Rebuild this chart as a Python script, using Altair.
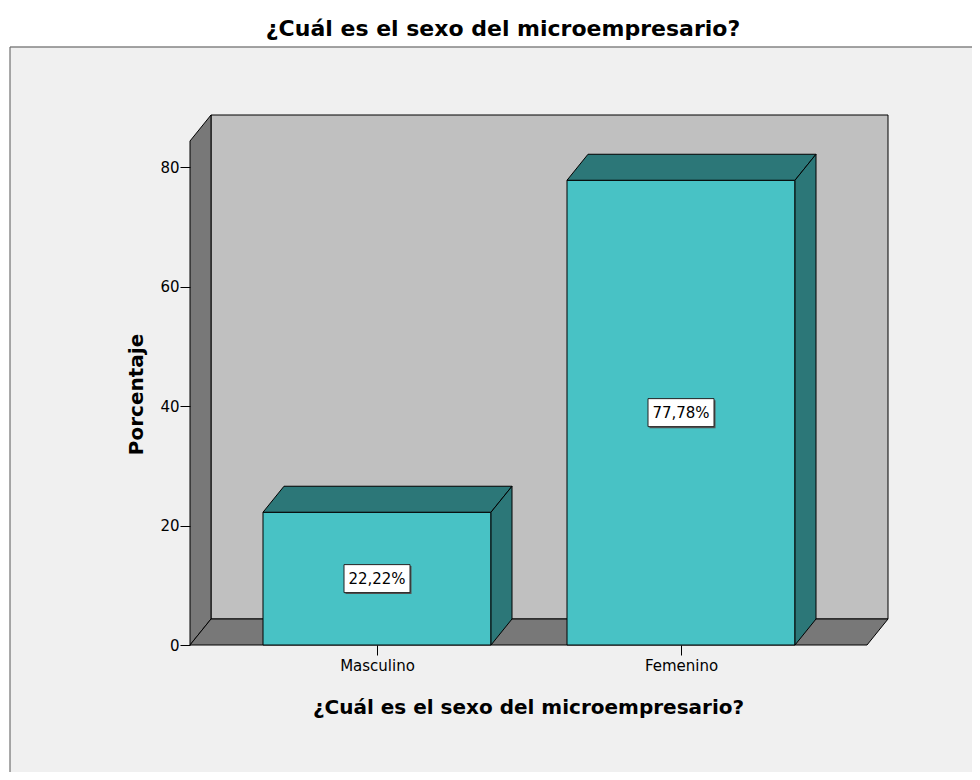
import json
import altair as alt
import pandas as pd

# ---- data ----
categories = ["Masculino", "Femenino"]
values = [22.22, 77.78]
bar_labels = ["22,22%", "77,78%"]
y_ticks = [0, 20, 40, 60, 80]
title_text = "¿Cuál es el sexo del microempresario?"
x_title = "¿Cuál es el sexo del microempresario?"
y_title = "Porcentaje"

# ---- geometry / style constants (pixels) ----
W, H = 698, 530
PX_PER_CAT = 304.0
PX_PER_PCT = 5.975
LEFT_PX = 187
DEPTH_X_PX, DEPTH_Y_PX = 21, 26
BAR_W_PX = 228
BOX_W, BOX_H = 66, 28
PAD = {"left": 182, "top": 107, "right": 84, "bottom": 127}

X_LO = -LEFT_PX / PX_PER_CAT
X_HI = X_LO + W / PX_PER_CAT
Y_HI = H / PX_PER_PCT
DX = DEPTH_X_PX / PX_PER_CAT
DY = DEPTH_Y_PX / PX_PER_PCT
HW = BAR_W_PX / 2 / PX_PER_CAT

TEAL = "#48c2c5"
DARK_TEAL = "#2c7778"
WALL = "#c0c0c0"
SIDE = "#787878"
FRAME_BG = "#f0f0f0"
FONT = "DejaVu Sans"

xs = alt.Scale(domain=[X_LO, X_HI], nice=False, zero=False)
ys = alt.Scale(domain=[0, Y_HI], nice=False, zero=False)

pos = list(range(len(categories)))
one = pd.DataFrame({"k": [0]})

# white page strip above and left of the grey frame (decoration)
strip_top = alt.Chart(one).mark_rect(fill="white").encode(
    x=alt.value(-PAD["left"]), x2=alt.value(W + PAD["right"]),
    y=alt.value(-PAD["top"]), y2=alt.value(-68),
)
strip_left = alt.Chart(one).mark_rect(fill="white").encode(
    x=alt.value(-PAD["left"]), x2=alt.value(-180),
    y=alt.value(-68), y2=alt.value(H + PAD["bottom"]),
)
frame_top = alt.Chart(one).mark_rule(color="#858585", strokeWidth=1.5).encode(
    x=alt.value(-180), x2=alt.value(W + PAD["right"]), y=alt.value(-68),
)
frame_left = alt.Chart(one).mark_rule(color="#707070", strokeWidth=1.2).encode(
    x=alt.value(-180), y=alt.value(-68), y2=alt.value(H + PAD["bottom"]),
)

label_expr = json.dumps(categories) + "[round(datum.value)]"
x_axis = alt.Axis(
    values=pos, labelExpr=label_expr, title=x_title, domain=False, grid=False,
    ticks=True, tickSize=10, tickColor="black", tickWidth=1,
    labelFont=FONT, labelFontSize=15, labelColor="black", labelPadding=3,
    labelFlush=False, labelOverlap=False,
    titleFont=FONT, titleFontSize=20, titleFontWeight="bold", titleColor="black",
    titleX=338, titleY=68, titleAlign="center", titleBaseline="alphabetic",
    zindex=1,
)
y_axis = alt.Axis(
    values=y_ticks, domain=False, grid=False, ticks=True, tickSize=10,
    tickColor="black", tickWidth=1, labelFont=FONT, labelFontSize=15,
    labelColor="black", labelPadding=1, labelFlush=False, labelOverlap=False,
    title=y_title, titleFont=FONT, titleFontSize=20, titleFontWeight="bold",
    titleColor="black", titleAngle=270, titleX=-48, titleY=279,
    titleAlign="center", titleBaseline="alphabetic", zindex=1,
)

# back wall (first layer on the scales: carries the axes)
back_df = pd.DataFrame({"x0": [X_LO + DX], "x1": [X_HI], "y0": [DY], "y1": [Y_HI]})
back = alt.Chart(back_df).mark_rect(fill=WALL, stroke="black", strokeWidth=1).encode(
    x=alt.X("x0:Q", scale=xs, axis=x_axis), x2="x1:Q",
    y=alt.Y("y0:Q", scale=ys, axis=y_axis), y2="y1:Q",
)

# left side wall
side_df = pd.DataFrame({"x": [X_LO, X_LO + DX], "lo": [0, DY], "hi": [Y_HI - DY, Y_HI]})
side = alt.Chart(side_df).mark_area(
    orient="vertical", fill=SIDE, stroke="black", strokeWidth=1, opacity=1
).encode(
    x=alt.X("x:Q", scale=xs),
    y=alt.Y("lo:Q", scale=ys), y2="hi:Q",
)

# floor
floor_df = pd.DataFrame({"y": [0, DY], "xl": [X_LO, X_LO + DX], "xr": [X_HI - DX, X_HI]})
floor = alt.Chart(floor_df).mark_area(
    orient="horizontal", fill=SIDE, stroke="black", strokeWidth=1, opacity=1
).encode(
    y=alt.Y("y:Q", scale=ys),
    x=alt.X("xl:Q", scale=xs), x2="xr:Q",
)

# bar fronts
front_df = pd.DataFrame({
    "cat": categories,
    "x0": [p - HW for p in pos],
    "x1": [p + HW for p in pos],
    "y0": [0.0] * len(values),
    "val": values,
})
front = alt.Chart(front_df).mark_rect(fill=TEAL, stroke="black", strokeWidth=1).encode(
    x=alt.X("x0:Q", scale=xs), x2="x1:Q",
    y=alt.Y("y0:Q", scale=ys), y2="val:Q",
)

# top faces and side faces of the bars
top_rows = []
side_rows = []
for p, c, v in zip(pos, categories, values):
    top_rows.append({"cat": c, "y": v, "xl": p - HW, "xr": p + HW})
    top_rows.append({"cat": c, "y": v + DY, "xl": p - HW + DX, "xr": p + HW + DX})
    side_rows.append({"cat": c, "x": p + HW, "lo": 0.0, "hi": v})
    side_rows.append({"cat": c, "x": p + HW + DX, "lo": DY, "hi": v + DY})

tops = alt.Chart(pd.DataFrame(top_rows)).mark_area(
    orient="horizontal", fill=DARK_TEAL, stroke="black", strokeWidth=1, opacity=1
).encode(
    y=alt.Y("y:Q", scale=ys),
    x=alt.X("xl:Q", scale=xs), x2="xr:Q",
    detail="cat:N",
)
sides = alt.Chart(pd.DataFrame(side_rows)).mark_area(
    orient="vertical", fill=DARK_TEAL, stroke="black", strokeWidth=1, opacity=1
).encode(
    x=alt.X("x:Q", scale=xs),
    y=alt.Y("lo:Q", scale=ys), y2="hi:Q",
    detail="cat:N",
)

# value labels in boxes
lab_df = pd.DataFrame({
    "cat": categories, "x": pos,
    "mid": [v / 2 for v in values], "label": bar_labels,
})
hy = (BOX_H / 2) / (BOX_W / 2)
box_shape = f"M-1,-{hy:.4f}L1,-{hy:.4f}L1,{hy:.4f}L-1,{hy:.4f}Z"
box_size = BOX_W * BOX_W
enc = dict(
    x=alt.X("x:Q", scale=xs),
    y=alt.Y("mid:Q", scale=ys),
)
shadow = alt.Chart(lab_df).mark_point(
    shape=box_shape, size=box_size, filled=True, fill="#555555", opacity=1,
    xOffset=1.5, yOffset=1.5,
).encode(**enc)
box = alt.Chart(lab_df).mark_point(
    shape=box_shape, size=box_size, filled=True, fill="white", stroke="#222222",
    strokeWidth=1, opacity=1,
).encode(**enc)
text = alt.Chart(lab_df).mark_text(
    font=FONT, fontSize=15, color="black", align="center", baseline="middle"
).encode(text="label:N", **enc)

# chart title (real text)
title = alt.Chart(pd.DataFrame({"t": [title_text]})).mark_text(
    font=FONT, fontSize=22, fontWeight="bold", color="black",
    align="center", baseline="alphabetic",
).encode(text="t:N", x=alt.value(313), y=alt.value(-79))

chart = alt.layer(
    strip_top, strip_left, frame_top, frame_left,
    back, side, floor, front, tops, sides, shadow, box, text, title
).properties(
    width=W, height=H,
    autosize=alt.AutoSizeParams(type="none"),
    padding=PAD,
    background=FRAME_BG,
).configure_view(stroke=None)

chart.save("out.html", embed_options={"renderer": "svg", "actions": False})
